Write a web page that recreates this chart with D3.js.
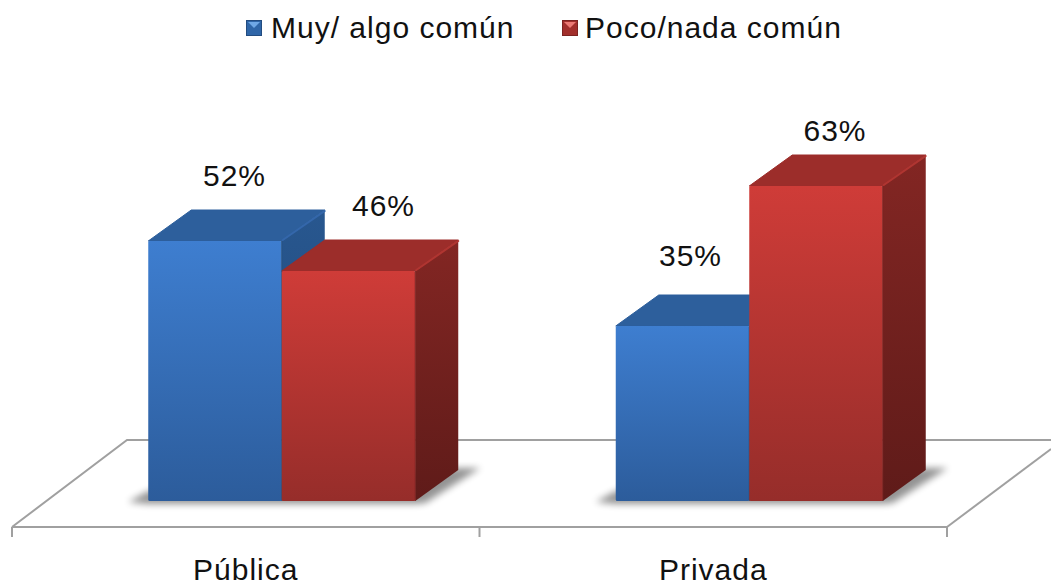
<!DOCTYPE html>
<html><head><meta charset="utf-8">
<script src="https://cdn.jsdelivr.net/npm/d3@7"></script>
<style>html,body{margin:0;padding:0;background:#fff;overflow:hidden}svg{display:block}text{font-family:"Liberation Sans",Arial,sans-serif;fill:#111;letter-spacing:1px}</style>
</head><body><svg id="c" width="1051" height="586"></svg>
<script>
const categories = ["Pública", "Privada"];
const seriesNames = ["Muy/ algo común", "Poco/nada común"];
const muyAlgo = [52, 35];
const pocoNada = [46, 63];
const seriesValues = [muyAlgo, pocoNada];

const svg = d3.select("#c"), defs = svg.append("defs");
const floorY = 527, depthX = 43, depthY = 31;
const x0 = d3.scaleBand().domain(categories).range([12, 947]);
const y = d3.scaleLinear().domain([0, 100]).range([501, 1]);
const barShift = 36, groupW = 267;
const x1 = d3.scaleBand().domain([0, 1]).range([0, groupW]);

const palettes = [
 {front:["#3e7ed0","#2c5c9b"], side:["#28578f","#1f4676"], top:"#2d5f9c", edge:"#3467ab", seam:"#26507f"},
 {front:["#cf3c38","#962d2a"], side:["#832623","#5f1b19"], top:"#9c2d2a", edge:"#b03531", seam:"#7c2321"}
];
palettes.forEach((p,i)=>{
  [["front",p.front],["side",p.side]].forEach(([k,c])=>{
    const g = defs.append("linearGradient").attr("id",k+i)
      .attr("x1",0).attr("x2",0).attr("y1",0).attr("y2",1);
    g.append("stop").attr("offset",0).attr("stop-color",c[0]);
    g.append("stop").attr("offset",1).attr("stop-color",c[1]);
  });
});
const blur = defs.append("filter").attr("id","blur").attr("x","-30%").attr("y","-50%").attr("width","160%").attr("height","200%");
blur.append("feGaussianBlur").attr("stdDeviation",3.5);

// floor and axis
const line = d3.line();
const axisColor = "#a0a0a0";
const floor = svg.append("g").attr("fill","none").attr("stroke",axisColor).attr("stroke-width",2);
const [xl,xr] = x0.range();
floor.append("path").attr("d",line([[xl,floorY],[xl+115,floorY-87],[1051,floorY-87]]));
floor.append("path").attr("d",line([[xr,floorY],[1051,floorY-78]]));
floor.append("path").attr("d",line([[xl,floorY],[xr,floorY]]));
const tickXs = categories.map(c=>x0(c)).concat([xr]);
floor.selectAll("line").data(tickXs).join("line")
  .attr("x1",d=>d).attr("x2",d=>d).attr("y1",floorY).attr("y2",floorY+10);

svg.append("g").selectAll("text").data(categories).join("text")
  .attr("x",c=>x0(c)+x0.bandwidth()/2).attr("y",579.5).attr("text-anchor","middle")
  .attr("font-size",30).text(c=>c);

// bars
categories.forEach((cat,ci)=>{
  const gx = x0(cat)+x0.bandwidth()/2+barShift-groupW/2;
  const base = y(0), gr = gx+groupW;
  // shadow
  svg.append("path").attr("filter","url(#blur)").attr("fill","#000").attr("opacity",0.42)
    .attr("d",line([[gx-20,base+1],[gx,base-10],[gr+depthX,base-depthY-2],[gr+depthX+22,base-depthY-2],[gr+10,base+2],[gr,base+3],[gx,base+3]])+"Z");
  seriesValues.forEach((vals,si)=>{
    const v = vals[ci], l = gx+x1(si), r = l+x1.bandwidth(), t = y(v), p = palettes[si];
    const g = svg.append("g");
    g.append("path").attr("fill",`url(#side${si})`)
      .attr("d",line([[r,t],[r+depthX,t-depthY],[r+depthX,base-depthY],[r,base]])+"Z");
    g.append("path").attr("fill",p.top).attr("stroke",p.top).attr("stroke-width",1).attr("stroke-linejoin","round")
      .attr("d",line([[l,t],[l+depthX,t-depthY],[r+depthX,t-depthY],[r,t]])+"Z");
    g.append("path").attr("fill","none").attr("stroke",p.edge).attr("stroke-width",2).attr("stroke-linecap","round")
      .attr("d",line([[r+1,t-1],[r+depthX,t-depthY+1]]));
    g.append("rect").attr("x",l).attr("y",t).attr("width",r-l).attr("height",base-t)
      .attr("fill",`url(#front${si})`).attr("rx",1.5);
    g.append("line").attr("x1",r).attr("x2",r).attr("y1",t).attr("y2",base)
      .attr("stroke",p.seam).attr("stroke-width",1);
  });
});

// value labels: hand-placed in the source chart, so each offset is relative to its bar top
const labelDX = [[19.5,35],[8,19]];
const labelDY = [[55,55],[60,45]];
const labels = svg.append("g").attr("font-size",30).attr("text-anchor","middle");
categories.forEach((cat,ci)=>{
  const gx = x0(cat)+x0.bandwidth()/2+barShift-groupW/2;
  seriesValues.forEach((vals,si)=>{
    labels.append("text")
      .attr("x",gx+x1(si)+x1.bandwidth()/2+labelDX[ci][si])
      .attr("y",y(vals[ci])-labelDY[ci][si])
      .text(vals[ci]+"%");
  });
});

// legend
const legendX = [246,562], legendTextDX = [25,23];
const legendC = [["#2f66a8","#6fa8e6","#234c80"],["#a22f2c","#ec7a75","#7c2321"]];
seriesNames.forEach((s,i)=>{
  const g = svg.append("g").attr("transform",`translate(${legendX[i]},20)`);
  g.append("rect").attr("width",16).attr("height",16).attr("fill",legendC[i][2]);
  g.append("rect").attr("x",1).attr("y",1).attr("width",14).attr("height",14).attr("fill",legendC[i][0]);
  g.append("path").attr("d",line([[2,2],[14,2],[8,8]])+"Z").attr("fill",legendC[i][1]);
  g.append("text").attr("x",legendTextDX[i]).attr("y",17.5).attr("font-size",30).text(s);
});
</script></body></html>
